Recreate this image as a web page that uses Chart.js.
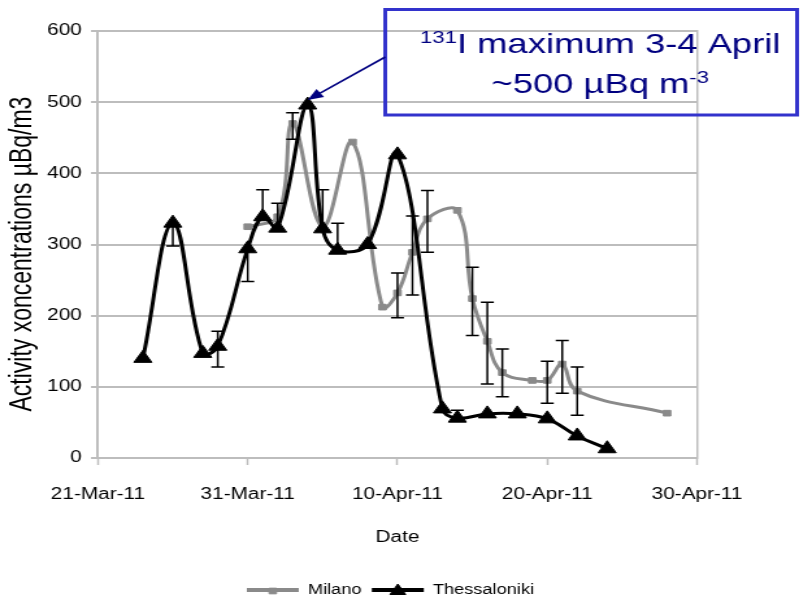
<!DOCTYPE html>
<html>
<head>
<meta charset="utf-8">
<script src="https://cdn.jsdelivr.net/npm/chart.js@4.4.1/dist/chart.umd.min.js"></script>
<style>
  html, body { margin: 0; padding: 0; background: #fff; }
  #chart { display: block; }
</style>
</head>
<body>
<canvas id="chart" width="625" height="607" style="width:812px;height:607px"></canvas>
<script>
const startDate = "2011-03-21";
const xTickLabels = ["21-Mar-11", "31-Mar-11", "10-Apr-11", "20-Apr-11", "30-Apr-11"];
const seriesNames = ["Milano", "Thessaloniki"];

const milanoDates = ["2011-03-31", "2011-04-02", "2011-04-03", "2011-04-05", "2011-04-07", "2011-04-09",
  "2011-04-10", "2011-04-11", "2011-04-12", "2011-04-14", "2011-04-15", "2011-04-16", "2011-04-17",
  "2011-04-19", "2011-04-20", "2011-04-21", "2011-04-22", "2011-04-28"];
const milanoValues = [325, 339, 470, 325, 444, 212, 232, 289, 336, 348, 224, 164, 120, 109, 109, 132, 94, 63];
const milanoErrLow = [null, null, 448, null, null, null, 197, 229, 289, null, 172, 104, 86, null, 77, 91, 60, null];
const milanoErrHigh = [null, null, 485, null, null, null, 260, 340, 376, null, 268, 219, 153, null, 136, 165, 128, null];

const thessDates = ["2011-03-24", "2011-03-26", "2011-03-28", "2011-03-29", "2011-03-31", "2011-04-01",
  "2011-04-02", "2011-04-04", "2011-04-05", "2011-04-06", "2011-04-08", "2011-04-10", "2011-04-13",
  "2011-04-14", "2011-04-16", "2011-04-18", "2011-04-20", "2011-04-22", "2011-04-24"];
const thessValues = [140, 330, 147, 157, 294, 339, 323, 496, 322, 292, 300, 426, 69, 56, 62, 62, 55, 31, 13];
const thessErrLow = [null, 298, null, 128, 248, 339, 323, null, 322, 292, null, null, null, 56, null, null, null, null, null];
const thessErrHigh = [null, 330, null, 178, 294, 377, 358, null, 377, 330, null, null, null, 67, null, null, null, null, null];

const noteLine1 = ["131", "I maximum 3-4 April"];
const noteLine2 = ["~500 µBq m", "-3"];

const FONT = '"Liberation Sans", Arial, sans-serif';
const GRID = "#bdbdbd";
const GREY = "#8a8a8a";
const NAVY = "#000080";

function dayOf(d) {
  return (Date.parse(d) - Date.parse(startDate)) / 86400000;
}
function toPoints(dates, values) {
  return dates.map((d, i) => ({ x: dayOf(d), y: values[i] }));
}

// black error bars, drawn over the lines
const errorBars = {
  id: "errorBars",
  afterDatasetsDraw(chart) {
    const ctx = chart.ctx;
    const y = chart.scales.y;
    const errs = [[milanoErrLow, milanoErrHigh], [thessErrLow, thessErrHigh]];
    ctx.save();
    ctx.strokeStyle = "#000";
    ctx.lineWidth = 1.5;
    errs.forEach(([lo, hi], di) => {
      const pts = chart.getDatasetMeta(di).data;
      const vals = chart.data.datasets[di].data;
      pts.forEach((pt, j) => {
        if (lo[j] == null) return;
        const yLo = y.getPixelForValue(lo[j]);
        const yHi = y.getPixelForValue(hi[j]);
        ctx.beginPath();
        ctx.moveTo(pt.x, yLo);
        ctx.lineTo(pt.x, yHi);
        if (lo[j] !== vals[j].y) { ctx.moveTo(pt.x - 5, yLo); ctx.lineTo(pt.x + 5, yLo); }
        if (hi[j] !== vals[j].y) { ctx.moveTo(pt.x - 5, yHi); ctx.lineTo(pt.x + 5, yHi); }
        ctx.stroke();
      });
    });
    ctx.restore();
  }
};

// markers on the legend lines + the blue note box with its arrow
const extras = {
  id: "extras",
  afterDraw(chart) {
    const ctx = chart.ctx;
    const legend = chart.legend;
    ctx.save();
    legend.legendItems.forEach((item, i) => {
      const box = legend.legendHitBoxes[i];
      const ds = chart.data.datasets[item.datasetIndex];
      ctx.fillStyle = ds.pointBackgroundColor;
      ctx.strokeStyle = ds.pointBorderColor;
      ctx.lineWidth = 1;
      Chart.helpers.drawPoint(ctx, {
        pointStyle: ds.pointStyle,
        radius: ds.pointStyle === "triangle" ? 7 : 4,
        borderWidth: 1
      }, box.left + 20, box.top + 8);
    });
    ctx.restore();

    // note box
    ctx.save();
    ctx.strokeStyle = "#3333cc";
    ctx.lineWidth = 3;
    ctx.strokeRect(296.5, 9.5, 317, 105.5);

    ctx.fillStyle = NAVY;
    ctx.textBaseline = "alphabetic";
    const cx = 462;
    const drawSup = (parts, base, supFirst) => {
      ctx.font = "28px " + FONT;
      const mainW = ctx.measureText(supFirst ? parts[1] : parts[0]).width;
      ctx.font = "17px " + FONT;
      const supW = ctx.measureText(supFirst ? parts[0] : parts[1]).width;
      const x = cx - (mainW + supW) / 2;
      if (supFirst) {
        ctx.fillText(parts[0], x, base - 10);
        ctx.font = "28px " + FONT;
        ctx.fillText(parts[1], x + supW, base);
      } else {
        ctx.font = "28px " + FONT;
        ctx.fillText(parts[0], x, base);
        ctx.font = "17px " + FONT;
        ctx.fillText(parts[1], x + mainW, base - 10);
      }
    };
    drawSup(noteLine1, 53, true);
    drawSup(noteLine2, 93, false);

    // arrow to the Thessaloniki maximum
    const vals = chart.data.datasets[1].data.map(p => p.y);
    const peak = chart.getDatasetMeta(1).data[vals.indexOf(Math.max(...vals))];
    const x0 = 296.5, y0 = 57;
    const x1 = peak.x, y1 = peak.y - 5;
    const ang = Math.atan2(y1 - y0, x1 - x0);
    ctx.strokeStyle = NAVY;
    ctx.lineWidth = 1.6;
    ctx.beginPath();
    ctx.moveTo(x0, y0);
    ctx.lineTo(x1 - Math.cos(ang) * 8, y1 - Math.sin(ang) * 8);
    ctx.stroke();
    ctx.beginPath();
    ctx.moveTo(x1, y1);
    ctx.lineTo(x1 - Math.cos(ang) * 12 + Math.sin(ang) * 5, y1 - Math.sin(ang) * 12 - Math.cos(ang) * 5);
    ctx.lineTo(x1 - Math.cos(ang) * 12 - Math.sin(ang) * 5, y1 - Math.sin(ang) * 12 + Math.cos(ang) * 5);
    ctx.closePath();
    ctx.fill();
    ctx.restore();
  }
};

Chart.defaults.font.family = FONT;
Chart.defaults.color = "#000";

new Chart(document.getElementById("chart"), {
  type: "line",
  data: {
    datasets: [
      {
        label: seriesNames[0],
        data: toPoints(milanoDates, milanoValues),
        borderColor: GREY,
        backgroundColor: GREY,
        borderWidth: 3,
        tension: 0.4,
        pointStyle: "rect",
        pointRadius: 4,
        pointBackgroundColor: GREY,
        pointBorderColor: GREY,
        pointBorderWidth: 1,
        order: 1
      },
      {
        label: seriesNames[1],
        data: toPoints(thessDates, thessValues),
        borderColor: "#000",
        backgroundColor: "#000",
        borderWidth: 3,
        tension: 0.4,
        pointStyle: "triangle",
        pointRadius: 8,
        pointBackgroundColor: "#000",
        pointBorderColor: "#000",
        pointBorderWidth: 1,
        order: 0
      }
    ]
  },
  options: {
    responsive: false,
    animation: false,
    events: [],
    layout: { padding: { top: 31, left: 0, right: 24, bottom: 0 } },
    scales: {
      x: {
        type: "linear",
        min: 0,
        max: 40,
        afterFit: (s) => { s.height = 117; },
        ticks: {
          stepSize: 10,
          autoSkip: false,
          maxRotation: 0,
          padding: 20,
          font: { size: 16 },
          callback: (v, i) => xTickLabels[i]
        },
        grid: { drawOnChartArea: false, drawTicks: true, tickLength: 7, tickColor: GRID, tickWidth: 1.5 },
        border: { color: GRID, width: 2 },
        title: { display: true, text: "Date", font: { size: 16 }, padding: { top: 0, bottom: 28 } }
      },
      y: {
        min: 0,
        max: 600,
        afterFit: (s) => { s.width = 75.4; },
        ticks: { stepSize: 100, padding: 7, font: { size: 16 } },
        grid: { color: GRID, lineWidth: 2, tickLength: 5.4, tickColor: GRID },
        border: { color: GRID, width: 2 },
        title: {
          display: true,
          // trailing spaces nudge the title a little lower, as in the original
          text: "Activity xoncentrations µBq/m3\u00a0\u00a0\u00a0",
          font: { size: 23 },
          padding: { top: 4, bottom: 0 }
        }
      },
      yRight: {
        type: "linear",
        position: "right",
        min: 0,
        max: 600,
        afterFit: (s) => { s.width = 64.5; },
        ticks: { display: false },
        grid: { display: false },
        border: { display: true, color: GRID, width: 1.5 }
      }
    },
    plugins: {
      tooltip: { enabled: false },
      legend: {
        position: "bottom",
        labels: {
          boxWidth: 40,
          boxHeight: 4,
          padding: 8,
          color: "#000",
          font: { size: 14 },
          sort: (a, b) => a.datasetIndex - b.datasetIndex,
          generateLabels(chart) {
            const items = Chart.defaults.plugins.legend.labels.generateLabels(chart);
            items.forEach((it) => { it.fillStyle = it.strokeStyle; it.lineWidth = 0; });
            return items;
          }
        }
      }
    }
  },
  plugins: [errorBars, extras]
});
</script>
</body>
</html>
